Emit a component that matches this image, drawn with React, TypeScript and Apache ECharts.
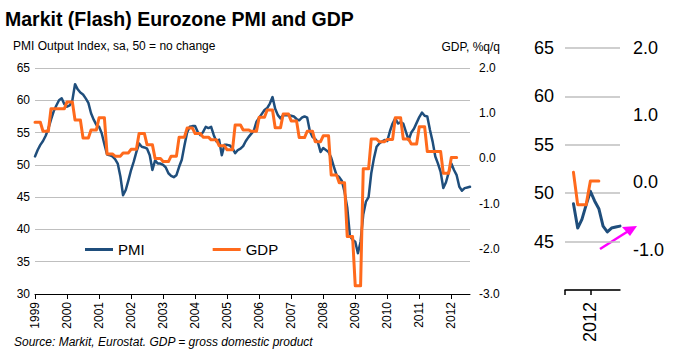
import React, { useEffect, useRef } from 'react';
import * as echarts from 'echarts';

const FONT = 'Arial, "Liberation Sans", sans-serif';
const BLUE = '#1f4e7c';
const ORANGE = '#ff6a1c';
const GRIDLINE = '#bfbfbf';

// Year tick labels of the time axis (monthly data, Jan 1999 - Aug 2012)
const years = [1999, 2000, 2001, 2002, 2003, 2004, 2005, 2006, 2007, 2008, 2009, 2010, 2011, 2012];

// Markit Eurozone PMI Output Index, monthly
const pmi1999 = [51.3, 52.3, 53.1, 53.7, 54.5, 55.6, 57.0, 58.3, 59.2, 60.0, 60.3, 59.4];
const pmi2000 = [59.0, 59.2, 60.0, 62.5, 61.7, 61.2, 60.9, 60.3, 59.6, 58.0, 57.0, 56.2];
const pmi2001 = [55.9, 54.9, 53.2, 51.6, 51.5, 51.3, 50.9, 50.2, 48.2, 45.3, 46.1, 47.6];
const pmi2002 = [49.2, 50.5, 52.0, 53.3, 52.8, 52.7, 52.5, 51.5, 49.2, 50.7, 50.2, 50.2];
const pmi2003 = [50.0, 49.6, 48.7, 48.3, 48.1, 48.4, 49.7, 50.8, 53.0, 55.0, 55.9, 56.0];
const pmi2004 = [56.0, 55.1, 54.6, 55.1, 55.9, 55.7, 55.9, 54.6, 53.6, 53.9, 51.5, 53.1];
const pmi2005 = [53.1, 53.0, 52.6, 51.8, 52.3, 52.5, 52.9, 53.7, 54.3, 54.8, 55.3, 56.7];
const pmi2006 = [57.3, 57.9, 58.5, 58.8, 59.5, 60.5, 58.7, 57.7, 57.2, 57.7, 57.7, 57.7];
const pmi2007 = [57.6, 57.5, 57.1, 56.9, 57.3, 57.5, 57.3, 55.2, 54.3, 54.0, 53.5, 52.0];
const pmi2008 = [52.6, 52.3, 52.0, 51.1, 49.7, 48.4, 48.1, 47.5, 45.8, 43.4, 39.0, 38.4];
const pmi2009 = [38.1, 36.3, 38.1, 42.3, 44.3, 45.0, 48.7, 51.0, 52.8, 53.3, 53.6, 53.85];
const pmi2010 = [53.7, 55.2, 56.4, 57.2, 56.4, 56.6, 56.4, 55.1, 53.85, 55.0, 55.6, 56.5];
const pmi2011 = [57.4, 58.1, 57.6, 57.5, 55.4, 53.6, 51.3, 50.2, 48.9, 46.4, 47.3, 48.8];
const pmi2012 = [50.2, 49.2, 48.4, 46.6, 46.0, 46.4, 46.5, 46.6];

// Eurozone GDP, % q/q, quarterly (Q1 1999 - Q1 2012)
const gdpQuarterly = [
  0.8, 0.6, 1.1, 1.1,
  1.25, 0.85, 0.45, 0.63,
  0.9, 0.1, 0.05, 0.12,
  0.2, 0.55, 0.3, 0.0,
  -0.07, 0.05, 0.47, 0.67,
  0.55, 0.47, 0.41, 0.28,
  0.19, 0.74, 0.63, 0.6,
  0.91, 1.07, 0.68, 0.98,
  0.83, 0.46, 0.6, 0.37,
  0.5, -0.37, -0.54, -1.73,
  -2.82, -0.23, 0.43, 0.37,
  0.42, 0.9, 0.43, 0.32,
  0.7, 0.15, 0.15, -0.33,
  0.02,
];

// Inset (zoomed view): starts Jul 2011, data from Sep 2011
const insetFirstMonth = '2011-07';
const insetDataFrom = '2011-09';

const pmi = [
  ...pmi1999, ...pmi2000, ...pmi2001, ...pmi2002, ...pmi2003, ...pmi2004, ...pmi2005,
  ...pmi2006, ...pmi2007, ...pmi2008, ...pmi2009, ...pmi2010, ...pmi2011, ...pmi2012,
];

const months: string[] = [];
years.forEach((y) => {
  for (let m = 1; m <= 12; m++) months.push(`${y}-${m < 10 ? '0' + m : m}`);
});
months.length = pmi.length;

const gdpMonthly: number[] = [];
gdpQuarterly.forEach((v) => gdpMonthly.push(v, v, v));

const isJan = (_i: number, v: string) => v.endsWith('-01');

export default function App() {
  const ref = useRef<HTMLDivElement>(null);

  useEffect(() => {
    document.body.style.margin = '0';
    if (!ref.current) return;
    const chart = echarts.init(ref.current, undefined, { renderer: 'svg' });

    const i0 = months.indexOf(insetFirstMonth);
    const i1 = months.indexOf(insetDataFrom);
    const insetMonths = months.slice(i0);
    const pad = new Array(i1 - i0).fill(null);
    const insetPmi = [...pad, ...pmi.slice(i1)];
    const insetGdp = [...pad, ...gdpMonthly.slice(i1)];

    const labelBase = { color: '#000', fontFamily: FONT };

    chart.setOption({
      animation: false,
      textStyle: { fontFamily: FONT },
      graphic: [
        {
          type: 'text', x: 5, y: 19,
          style: { text: 'Markit (Flash) Eurozone PMI and GDP', fontSize: 19.5, fontWeight: 'bold', fontFamily: FONT, fill: '#000', textVerticalAlign: 'middle' },
        },
        {
          type: 'text', x: 13, y: 46,
          style: { text: 'PMI Output Index, sa, 50 = no change', fontSize: 12, fontFamily: FONT, fill: '#000', textVerticalAlign: 'middle' },
        },
        {
          type: 'text', x: 500, y: 47,
          style: { text: 'GDP, %q/q', fontSize: 12, fontFamily: FONT, fill: '#000', textAlign: 'right', textVerticalAlign: 'middle' },
        },
        {
          type: 'text', x: 14, y: 342,
          style: { text: 'Source: Markit, Eurostat. GDP = gross domestic product', fontSize: 12, fontStyle: 'italic', fontFamily: FONT, fill: '#000', textVerticalAlign: 'middle' },
        },
        {
          type: 'line',
          shape: { x1: 600, y1: 249, x2: 630, y2: 230 },
          style: { stroke: '#ff00ff', lineWidth: 2.5 },
        },
        {
          type: 'polygon',
          shape: { points: [[637, 226], [622, 227], [630, 236]] },
          style: { fill: '#ff00ff' },
        },
      ],
      legend: {
        data: ['PMI', 'GDP'],
        left: 85,
        top: 242,
        padding: 0,
        icon: 'rect',
        itemWidth: 28,
        itemHeight: 3,
        itemGap: 68,
        textStyle: { fontSize: 15, color: '#000', fontFamily: FONT },
      },
      grid: [
        { left: 35, right: 223, top: 68, bottom: 61 },
        { left: 565, right: 73, top: 48, bottom: 65 },
      ],
      xAxis: [
        {
          type: 'category', gridIndex: 0, data: months, boundaryGap: false,
          axisLine: { onZero: false, lineStyle: { color: '#000', width: 1 } },
          axisTick: { interval: isJan, length: 5, lineStyle: { color: '#000' } },
          axisLabel: { ...labelBase, interval: isJan, rotate: 90, fontSize: 12, margin: 8, formatter: (v: string) => v.slice(0, 4) },
          splitLine: { show: false },
        },
        {
          type: 'category', gridIndex: 1, data: insetMonths, boundaryGap: false,
          axisLine: { onZero: false, lineStyle: { color: '#000', width: 1.5 } },
          axisTick: { interval: (i: number, v: string) => i === 0 || v.endsWith('-01'), length: 5, lineStyle: { color: '#000', width: 1.5 } },
          axisLabel: { ...labelBase, interval: isJan, rotate: 90, fontSize: 18, margin: 12, formatter: (v: string) => v.slice(0, 4) },
          splitLine: { show: false },
        },
      ],
      yAxis: [
        {
          type: 'value', gridIndex: 0, min: 30, max: 65, interval: 5, position: 'left',
          axisLine: { show: false }, axisTick: { show: false },
          axisLabel: { ...labelBase, fontSize: 12, margin: 5 },
          splitLine: { lineStyle: { color: GRIDLINE, width: 1 } },
        },
        {
          type: 'value', gridIndex: 0, min: -3, max: 2, interval: 1, position: 'right',
          axisLine: { show: false }, axisTick: { show: false },
          axisLabel: { ...labelBase, fontSize: 12, margin: 9, formatter: (v: number) => v.toFixed(1) },
          splitLine: { show: false },
        },
        {
          type: 'value', gridIndex: 1, min: 40, max: 65, interval: 5, position: 'left',
          axisLine: { show: false }, axisTick: { show: false },
          axisLabel: { ...labelBase, fontSize: 18, margin: 11, formatter: (v: number) => (v === 40 ? '' : String(v)) },
          splitLine: { lineStyle: { color: GRIDLINE, width: 1.5 } },
        },
        {
          type: 'value', gridIndex: 1, min: -1.6, max: 2, interval: 0.2, position: 'right',
          axisLine: { show: false }, axisTick: { show: false },
          axisLabel: {
            ...labelBase, fontSize: 18, margin: 13,
            formatter: (v: number) => {
              const r = Math.round(v);
              return Math.abs(v - r) < 1e-6 ? r.toFixed(1) : '';
            },
          },
          splitLine: { show: false },
        },
      ],
      series: [
        {
          name: 'PMI', type: 'line', xAxisIndex: 0, yAxisIndex: 0, data: pmi,
          symbol: 'none', showSymbol: false, z: 2,
          lineStyle: { color: BLUE, width: 2.5, join: 'round', cap: 'round' }, itemStyle: { color: BLUE },
        },
        {
          name: 'GDP', type: 'line', xAxisIndex: 0, yAxisIndex: 1, data: gdpMonthly,
          symbol: 'none', showSymbol: false, z: 3,
          lineStyle: { color: ORANGE, width: 3, join: 'round', cap: 'round' }, itemStyle: { color: ORANGE },
        },
        {
          name: 'PMI', type: 'line', xAxisIndex: 1, yAxisIndex: 2, data: insetPmi,
          symbol: 'none', showSymbol: false, z: 2,
          lineStyle: { color: BLUE, width: 3, join: 'round', cap: 'round' }, itemStyle: { color: BLUE },
        },
        {
          name: 'GDP', type: 'line', xAxisIndex: 1, yAxisIndex: 3, data: insetGdp,
          symbol: 'none', showSymbol: false, z: 3,
          lineStyle: { color: ORANGE, width: 3, join: 'round', cap: 'round' }, itemStyle: { color: ORANGE },
        },
      ],
    });

    return () => chart.dispose();
  }, []);

  return <div ref={ref} style={{ position: 'absolute', left: 0, top: 0, width: 693, height: 355 }} />;
}
